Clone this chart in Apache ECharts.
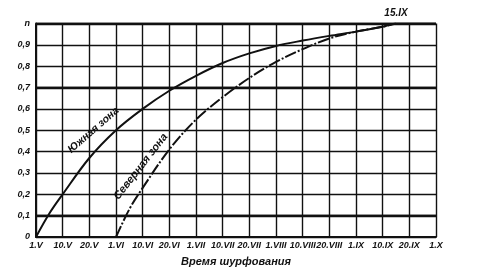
<!DOCTYPE html>
<html><head><meta charset="utf-8">
<script src="https://cdn.jsdelivr.net/npm/echarts@6/dist/echarts.min.js"></script>
<style>html,body{margin:0;padding:0;background:#fff}#c{width:492px;height:274px}</style>
</head><body><div id="c"></div>
<script>
var xTickLabels = ['1.V','10.V','20.V','1.VI','10.VI','20.VI','1.VII','10.VII','20.VII','1.VIII','10.VIII','20.VIII','1.IX','10.IX','20.IX','1.X'];
var southX = [0, 0.5, 1, 2, 3, 4, 5, 6, 7, 8, 9, 10, 11, 12, 13, 13.5, 14, 15];
var southY = [0, 0.11, 0.2, 0.37, 0.5, 0.6, 0.685, 0.755, 0.815, 0.86, 0.895, 0.92, 0.942, 0.962, 0.985, 1.0, 1.0, 1.0];
var northX = [3, 3.5, 4, 5, 6, 7, 8, 9, 10, 11, 12, 13, 13.5];
var northY = [0, 0.13, 0.23, 0.41, 0.55, 0.655, 0.745, 0.82, 0.88, 0.93, 0.962, 0.985, 1.0];
var southName = 'Южная зона';
var northName = 'Северная зона';
var endLabel = '15.IX';
var endLabelX = 13.5;
var xTitle = 'Время шурфования';

var font = 'Liberation Sans';
function pairs(xs, ys){ return xs.map(function(x,i){ return [x, ys[i]]; }); }
var chart = echarts.init(document.getElementById('c'), null, {renderer: 'canvas'});
var lbl = {fontFamily: font, fontStyle: 'italic', fontWeight: 'bold', fontSize: 9, color: '#111'};
chart.setOption({
  animation: false,
  backgroundColor: '#fff',
  grid: {left: 36, right: 56, top: 23.5, bottom: 37},
  xAxis: {
    type: 'value', min: 0, max: 15, interval: 1,
    name: xTitle, nameLocation: 'middle', nameGap: 19,
    nameTextStyle: {fontFamily: font, fontStyle: 'italic', fontWeight: 'bold', fontSize: 11, color: '#111'},
    axisLine: {lineStyle: {color: '#111', width: 2}},
    axisTick: {show: false},
    axisLabel: Object.assign({margin: 4, formatter: function(v){ return xTickLabels[Math.round(v)] || ''; }}, lbl),
    splitLine: {show: true, lineStyle: {color: '#111', width: 1.4}}
  },
  yAxis: {
    type: 'value', min: 0, max: 1, interval: 0.1,
    axisLine: {show: true, lineStyle: {color: '#111', width: 2}},
    axisTick: {show: false},
    axisLabel: Object.assign({margin: 6, formatter: function(v){
      if (v === 0) return '0';
      if (Math.abs(v - 1) < 1e-6) return 'n';
      return v.toFixed(1).replace('.', ',');
    }}, lbl),
    splitLine: {show: true, lineStyle: {color: '#111', width: 1.4}}
  },
  series: [
    {
      type: 'line', data: pairs(southX, southY), smooth: 0.35, showSymbol: false, symbol: 'none',
      lineStyle: {color: '#111', width: 2},
      markLine: {silent: true, symbol: 'none', label: {show: false},
        lineStyle: {color: '#111', width: 2.4, type: 'solid'},
        data: [{yAxis: 0.1}, {yAxis: 0.7}, {yAxis: 1.0}]}
    },
    {
      type: 'line', data: pairs(northX, northY), smooth: 0.35, showSymbol: false, symbol: 'none',
      lineStyle: {color: '#111', width: 2, type: [12, 2, 2, 2]}
    }
  ]
});
function place(name, x, y, rotDeg, size){
  var p = chart.convertToPixel({gridIndex: 0}, [x, y]);
  return {type: 'text', x: p[0], y: p[1], rotation: rotDeg * Math.PI / 180,
    style: {text: name, font: 'italic bold ' + size + 'px "' + font + '"', fill: '#111', align: 'center', verticalAlign: 'middle'}};
}
var endPix = chart.convertToPixel({gridIndex: 0}, [endLabelX, 1.0]);
chart.setOption({graphic: [
  place(southName, 2.15, 0.5, 41, 10.5),
  place(northName, 3.93, 0.33, 52, 11),
  {type: 'text', x: endPix[0], y: endPix[1] - 10, style: {text: endLabel, font: 'italic bold 10px "' + font + '"', fill: '#111', align: 'center', verticalAlign: 'middle'}}
]});
</script>
</body></html>
